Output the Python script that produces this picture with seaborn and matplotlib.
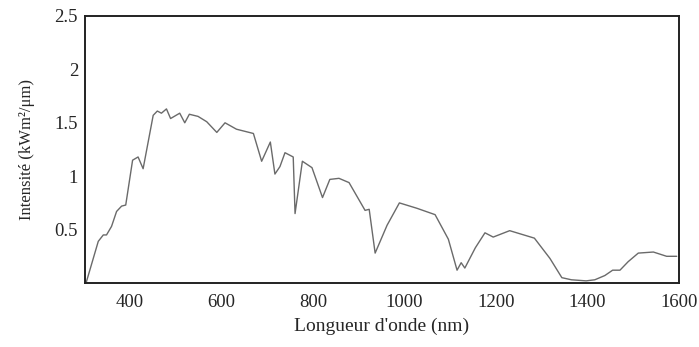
import matplotlib.pyplot as plt
import pandas as pd
import seaborn as sns

# wavelength (nm) and intensity (kW m^-2 / um)
wavelength = [305, 331, 342, 349, 360, 371, 382, 391, 406, 418, 429, 451, 460, 469,
              480, 489, 509, 520, 530, 549, 568, 590, 608, 633, 670, 688, 707, 717,
              728, 739, 757, 761, 777, 798, 821, 837, 857, 879, 914, 923, 936, 962,
              989, 1027, 1067, 1096, 1115, 1124, 1132, 1155, 1176, 1194, 1230, 1284,
              1318, 1344, 1365, 1397, 1416, 1438, 1455, 1471, 1489, 1511, 1544, 1573,
              1595]
intensity = [0.01, 0.39, 0.45, 0.45, 0.53, 0.67, 0.72, 0.73, 1.15, 1.18, 1.07, 1.57,
             1.61, 1.59, 1.63, 1.54, 1.59, 1.50, 1.58, 1.56, 1.51, 1.41, 1.50, 1.44,
             1.40, 1.14, 1.32, 1.02, 1.09, 1.22, 1.18, 0.65, 1.14, 1.08, 0.80, 0.97,
             0.98, 0.94, 0.68, 0.69, 0.28, 0.54, 0.75, 0.70, 0.64, 0.41, 0.12, 0.19,
             0.14, 0.33, 0.47, 0.43, 0.49, 0.42, 0.23, 0.05, 0.03, 0.02, 0.03, 0.07,
             0.12, 0.12, 0.20, 0.28, 0.29, 0.25, 0.25]

x_ticks = [400, 600, 800, 1000, 1200, 1400, 1600]
y_ticks = [0.5, 1, 1.5, 2, 2.5]
y_tick_labels = ["0.5", "1", "1.5", "2", "2.5"]

df = pd.DataFrame({"wl": wavelength, "I": intensity})

sns.set_style("white")
plt.rcParams["font.family"] = ["Liberation Serif", "DejaVu Serif"]

fig = plt.figure(figsize=(6.99, 3.47), dpi=100)
ax = fig.add_axes([85 / 699, 1 - 283 / 347, (679 - 85) / 699, (283 - 16) / 347])

sns.lineplot(data=df, x="wl", y="I", ax=ax, color="#6a6a6a", linewidth=1.0)

ax.set_xlim(302, 1600)
ax.set_ylim(0, 2.5)
ax.set_xticks(x_ticks)
ax.set_xticklabels([str(t) for t in x_ticks], fontsize=13.5)
ax.set_yticks(y_ticks)
ax.set_yticklabels(y_tick_labels, fontsize=13.5)
ax.tick_params(axis="y", direction="in", length=14, width=1.2, pad=5, color="#222222")
ax.tick_params(axis="x", direction="in", length=10, width=1.2, pad=8, color="#222222")

for s in ax.spines.values():
    s.set_visible(True)
    s.set_color("#222222")
    s.set_linewidth(1.4)

ax.set_xlabel("Longueur d'onde (nm)", fontsize=14, labelpad=5)
ax.set_ylabel("Intensité (kWm²/μm)", fontsize=12, labelpad=14)

fig.savefig("out.png", dpi=100, facecolor="white")
